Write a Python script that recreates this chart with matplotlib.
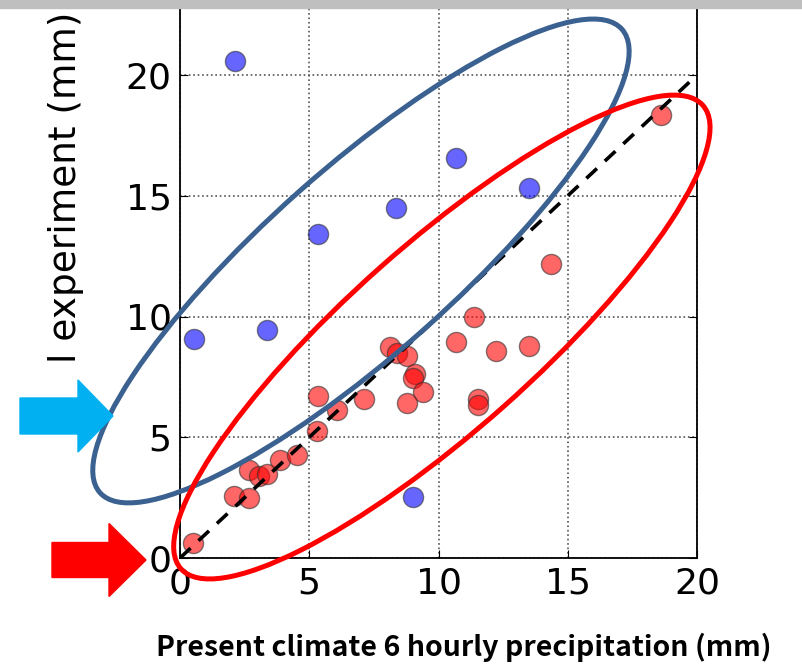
import numpy as np
import matplotlib
matplotlib.use('Agg')
import matplotlib.pyplot as plt
import matplotlib.patches as mpatches
import matplotlib.transforms as mtrans

#%% data
red_x = [0.52, 2.1, 2.67, 2.67, 3.07, 3.38, 3.87, 4.51, 5.29, 5.35, 6.06, 7.1,
         8.12, 8.4, 8.78, 9.09, 9.0, 9.4, 8.78, 10.68, 11.37, 12.22, 13.5,
         11.53, 11.53, 14.35, 18.6]
red_y = [0.63, 2.57, 2.5, 3.64, 3.4, 3.48, 4.06, 4.26, 5.27, 6.7, 6.13, 6.58,
         8.72, 8.5, 8.36, 7.6, 7.45, 6.87, 6.42, 8.94, 10.0, 8.57, 8.78,
         6.58, 6.34, 12.17, 18.34]
blue_x = [2.13, 0.54, 3.37, 5.34, 8.36, 10.68, 13.5, 9.01]
blue_y = [20.58, 9.07, 9.44, 13.42, 14.49, 16.56, 15.32, 2.53]

ticks = [0, 5, 10, 15, 20]

#%% figure
W, H, dpi = 802, 665, 100
fig = plt.figure(figsize=(W / dpi, H / dpi), dpi=dpi)
ax = fig.add_axes([180 / W, 1 - 558 / H, 517 / W, 558 / H])

ax.scatter(red_x, red_y, s=210, c='red', alpha=0.6, edgecolors='#333333',
           linewidths=1, zorder=3)
ax.scatter(blue_x, blue_y, s=210, c='blue', alpha=0.6, edgecolors='#333333',
           linewidths=1, zorder=3)
ax.plot([0, 20], [0, 20], 'k--', lw=2.6, dashes=(4, 3), zorder=4)

ax.set_xlim(0, 20)
ax.set_ylim(0, 558 / 24.15)
ax.set_xticks(ticks)
ax.set_yticks(ticks)
ax.tick_params(direction='in', top=True, right=True, labelsize=26, length=6,
               pad=6)
ax.grid(True, ls=':', color='#555555', lw=1.2)
ax.spines['top'].set_visible(False)
for sp in ['left', 'right', 'bottom']:
    ax.spines[sp].set_linewidth(1.3)

# ellipses, size in inches around a data centre
def ring(cx, cy, a_px, b_px, ang, col):
    tr = fig.dpi_scale_trans + mtrans.ScaledTranslation(cx, cy, ax.transData)
    e = mpatches.Ellipse((0, 0), 2 * a_px / dpi, 2 * b_px / dpi, angle=ang,
                         transform=tr, fill=False, ec=col, lw=3.6,
                         clip_on=False, zorder=5)
    ax.add_patch(e)

ring(7.0, 12.3, 349, 93, 41.6, '#3a6190')
ring(10.13, 9.15, 349, 93, 41.6, '#ff0000')

# labels
ax.text(-0.22, 0.349, 'l experiment (mm)', transform=ax.transAxes,
        rotation=90, ha='center', va='bottom', fontsize=27)
fig.text(156 / W, 1 - 656 / H, 'Present climate 6 hourly precipitation (mm)',
         family=['Noto Sans CJK JP', 'DejaVu Sans'], fontweight='bold',
         fontsize=20.5, ha='left', va='baseline')

# arrows in pixel space
px = mtrans.Affine2D().scale(1 / dpi) + fig.dpi_scale_trans
fig.patches.append(mpatches.FancyArrow(20, H - 416, 93, 0, width=36,
                                       head_width=72, head_length=35,
                                       length_includes_head=True,
                                       color='#00b0f0', transform=px))
fig.patches.append(mpatches.FancyArrow(52, H - 560, 94, 0, width=35,
                                       head_width=73, head_length=37,
                                       length_includes_head=True,
                                       color='#ff0000', transform=px))
# grey strip at the top
fig.patches.append(mpatches.Rectangle((0, H - 8), W, 8, color='#bfbfbf',
                                      transform=px, zorder=10))

fig.savefig('out.png', dpi=dpi)
